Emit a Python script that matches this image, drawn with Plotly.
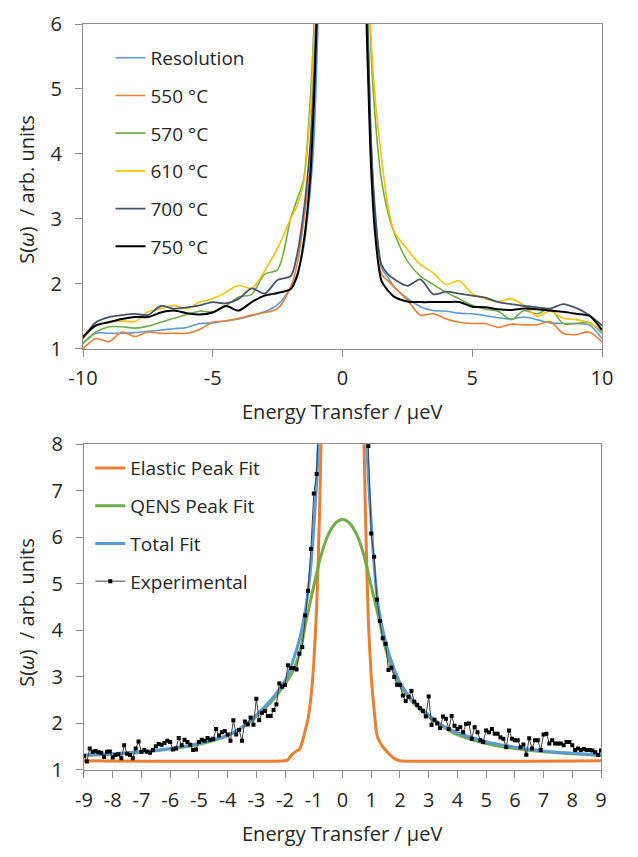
import numpy as np
import plotly.graph_objects as go

# ---------------- top panel data ----------------
x_top = [-10, -9.5, -9, -8.5, -8, -7.5, -7, -6.5, -6, -5.5, -5, -4.5, -4, -3.5, -3, -2.5, -2,
         -1.75, -1.5, -1.25, -1.1, -1.0, -0.9, -0.5, 0, 0.5, 0.9, 1.0, 1.1, 1.25, 1.5, 1.75,
         2, 2.5, 3, 3.5, 4, 4.5, 5, 5.5, 6, 6.5, 7, 7.5, 8, 8.5, 9, 9.5, 10]

resolution = [1.08, 1.24, 1.24, 1.24, 1.25, 1.27, 1.29, 1.31, 1.33, 1.39, 1.40, 1.43, 1.46, 1.51, 1.57, 1.68, 1.94,
              2.15, 2.55, 3.4, 4.2, 5.3, 6.8, 25, 40, 25, 7.0, 5.5, 4.2, 3.2, 2.25, 2.1,
              1.95, 1.78, 1.65, 1.59, 1.58, 1.55, 1.54, 1.51, 1.48, 1.46, 1.49, 1.45, 1.40, 1.39, 1.39, 1.37, 1.16]
t550 = [1.00, 1.16, 1.11, 1.26, 1.19, 1.26, 1.24, 1.24, 1.24, 1.30, 1.41, 1.43, 1.47, 1.52, 1.56, 1.62, 1.95,
        2.3, 2.95, 3.8, 5.0, 6.3, 7.5, 25, 40, 25, 7.0, 5.4, 4.0, 3.0, 2.15, 2.05,
        1.95, 1.75, 1.52, 1.54, 1.46, 1.41, 1.39, 1.39, 1.33, 1.38, 1.37, 1.37, 1.42, 1.24, 1.22, 1.26, 1.11]
t570 = [1.09, 1.26, 1.34, 1.34, 1.32, 1.35, 1.41, 1.47, 1.53, 1.58, 1.57, 1.66, 1.80, 1.84, 2.15, 2.22, 3.0,
        3.3, 3.6, 4.8, 6.0, 7.5, 9.0, 25, 40, 25, 9.0, 7.0, 5.6, 4.6, 3.6, 3.1,
        2.78, 2.35, 2.12, 1.99, 1.87, 1.77, 1.67, 1.61, 1.58, 1.45, 1.59, 1.54, 1.62, 1.39, 1.39, 1.41, 1.24]
t610 = [1.16, 1.36, 1.41, 1.43, 1.42, 1.57, 1.62, 1.67, 1.62, 1.72, 1.77, 1.87, 1.98, 1.93, 2.2, 2.55, 3.0,
        3.2, 3.55, 4.6, 5.8, 7.2, 9.0, 25, 40, 25, 9.0, 7.2, 5.8, 4.9, 3.95, 3.2,
        2.8, 2.53, 2.3, 2.17, 1.99, 2.05, 1.85, 1.77, 1.73, 1.77, 1.67, 1.50, 1.58, 1.47, 1.45, 1.40, 1.29]
t700 = [1.16, 1.41, 1.49, 1.52, 1.54, 1.52, 1.66, 1.62, 1.64, 1.67, 1.72, 1.70, 1.77, 1.93, 1.85, 2.06, 2.12,
        2.45, 3.1, 4.1, 5.2, 6.3, 7.8, 25, 40, 25, 7.0, 5.6, 4.2, 3.1, 2.3, 2.15,
        2.07, 1.97, 2.07, 1.84, 1.88, 1.85, 1.82, 1.79, 1.72, 1.69, 1.66, 1.64, 1.62, 1.69, 1.63, 1.52, 1.36]
t750 = [1.19, 1.36, 1.41, 1.46, 1.49, 1.49, 1.56, 1.59, 1.55, 1.53, 1.56, 1.66, 1.59, 1.72, 1.82, 1.86, 1.92,
        2.12, 2.63, 3.6, 4.8, 6.0, 7.5, 25, 40, 25, 6.5, 5.0, 3.8, 2.8, 2.05, 1.9,
        1.8, 1.73, 1.72, 1.72, 1.72, 1.72, 1.65, 1.64, 1.61, 1.60, 1.62, 1.61, 1.59, 1.57, 1.54, 1.51, 1.29]

top_names = ["Resolution", "550 °C", "570 °C", "610 °C", "700 °C", "750 °C"]
top_series = [resolution, t550, t570, t610, t700, t750]
top_colors = ["#5B9BD5", "#ED7D31", "#70AD47", "#FFC000", "#44546A", "#000000"]
top_widths = [1.6, 1.6, 1.6, 1.6, 1.8, 2.0]

# ---------------- bottom panel data ----------------
x_fit = [-9, -8, -7, -6, -5, -4, -3.5, -3, -2.5, -2, -1.75, -1.5, -1.25, -1.1, -1.0, -0.9, -0.8, -0.6, -0.3, 0,
         0.3, 0.6, 0.8, 0.9, 1.0, 1.1, 1.25, 1.5, 1.75, 2, 2.5, 3, 3.5, 4, 5, 6, 7, 8, 9]
total_fit = [1.32, 1.35, 1.39, 1.46, 1.57, 1.75, 1.92, 2.18, 2.5, 2.92, 3.3, 3.8, 4.6, 5.4, 6.2, 7.2, 8.6, 12, 18, 20,
             18, 12, 8.6, 7.3, 6.3, 5.4, 4.5, 3.75, 3.25, 2.88, 2.45, 2.18, 1.95, 1.8, 1.61, 1.49, 1.41, 1.36, 1.32]
x_qens = [-9, -8, -7, -6, -5, -4, -3.5, -3, -2.5, -2, -1.75, -1.5, -1.25, -1.0, -0.75, -0.5, -0.25, 0,
          0.25, 0.5, 0.75, 1.0, 1.25, 1.5, 1.75, 2, 2.5, 3, 3.5, 4, 5, 6, 7, 8, 9]
qens_fit = [1.31, 1.34, 1.38, 1.45, 1.55, 1.74, 1.91, 2.15, 2.45, 2.85, 3.1, 3.5, 4.25, 4.95, 5.6, 6.05, 6.3, 6.38,
            6.3, 6.05, 5.6, 4.95, 4.3, 3.6, 3.15, 2.82, 2.42, 2.15, 1.93, 1.76, 1.57, 1.46, 1.39, 1.35, 1.31]
x_elastic = [-9, -2.0, -1.9, -1.8, -1.7, -1.6, -1.5, -1.4, -1.3, -1.2, -1.1, -1.0, -0.9, -0.8, -0.7, -0.5, -0.25, 0,
             0.25, 0.5, 0.7, 0.8, 0.9, 1.0, 1.1, 1.2, 1.3, 1.4, 1.5, 1.6, 1.7, 1.8, 1.9, 2.0, 9]
elastic_fit = [1.2, 1.2, 1.22, 1.3, 1.36, 1.41, 1.44, 1.6, 1.84, 2.1, 2.55, 3.3, 4.5, 6.5, 9.5, 16, 24, 27,
               24, 16, 9.5, 6.5, 4.2, 3.0, 2.3, 1.75, 1.6, 1.5, 1.43, 1.36, 1.3, 1.25, 1.22, 1.2, 1.2]

x_exp = np.round(np.arange(-90, 91) / 10.0, 1)
exp_left = [1.30, 1.18, 1.46, 1.39, 1.41, 1.38, 1.37, 1.28, 1.39, 1.40,
            1.27, 1.32, 1.34, 1.25, 1.53, 1.35, 1.32, 1.25, 1.46, 1.61,
            1.39, 1.43, 1.39, 1.37, 1.43, 1.51, 1.56, 1.54, 1.58, 1.63,
            1.60, 1.44, 1.46, 1.69, 1.53, 1.65, 1.60, 1.54, 1.43, 1.44,
            1.60, 1.65, 1.63, 1.69, 1.65, 1.67, 1.88, 1.74, 1.81, 1.84,
            1.76, 1.63, 2.07, 1.76, 1.86, 1.63, 2.04, 1.98, 2.13, 1.97,
            2.53, 2.07, 2.23, 2.27, 2.16, 2.16, 2.29, 2.41, 2.86, 2.79,
            2.83, 3.25, 3.19, 3.19, 3.16, 3.50, 3.64, 4.32, 4.85, 5.75,
            6.94, 7.36]
exp_center = [9.6, 12.5, 15.5, 18.5, 21, 23, 24.5, 25.5, 26, 25.5, 24.5, 23, 21, 18.5, 15.5, 12.5, 9.8]
exp_right = [7.96, 6.08, 5.58, 4.66, 4.20, 3.83, 3.71, 3.15, 3.20, 3.00,
             2.83, 2.83, 2.60, 2.48, 2.57, 2.70, 2.47, 2.40, 2.33, 2.27,
             2.15, 2.58, 1.97, 2.08, 2.00, 1.90, 2.15, 2.10, 1.88, 2.16,
             1.95, 1.88, 1.92, 1.81, 1.99, 2.00, 1.67, 1.92, 1.81, 1.64,
             1.60, 1.85, 1.81, 1.88, 1.78, 1.78, 1.70, 1.67, 1.49, 1.85,
             1.67, 1.64, 1.64, 1.49, 1.55, 1.33, 1.68, 1.46, 1.64, 1.64,
             1.43, 1.76, 1.78, 1.57, 1.64, 1.57, 1.57, 1.57, 1.53, 1.60,
             1.60, 1.53, 1.43, 1.46, 1.43, 1.45, 1.43, 1.43, 1.42, 1.38,
             1.33, 1.42]
experimental = exp_left + exp_center + exp_right

top_xticks = [-10, -5, 0, 5, 10]
top_xlabels = ["-10", "-5", "0", "5", "10"]
top_yticks = [1, 2, 3, 4, 5, 6]
bot_xticks = list(range(-9, 10))
bot_xlabels = [str(v) for v in bot_xticks]
bot_yticks = [1, 2, 3, 4, 5, 6, 7, 8]

FONT = "Open Sans"
TXT = "#262626"
AX = "#8C8C8C"

fig = go.Figure()

for i, (name, ys, col, w) in enumerate(zip(top_names, top_series, top_colors, top_widths)):
    fig.add_trace(go.Scatter(x=x_top, y=ys, name=name, mode="lines",
                             line=dict(color=col, width=w, shape="spline", smoothing=0.8),
                             xaxis="x", yaxis="y", legend="legend", legendgroup="t%d" % i))

fig.add_trace(go.Scatter(x=x_elastic, y=elastic_fit, name="Elastic Peak Fit", mode="lines",
                         line=dict(color="#ED7D31", width=3, shape="spline", smoothing=0.6),
                         xaxis="x2", yaxis="y2", legend="legend2", legendgroup="b0"))
fig.add_trace(go.Scatter(x=x_qens, y=qens_fit, name="QENS Peak Fit", mode="lines",
                         line=dict(color="#70AD47", width=3, shape="spline", smoothing=0.8),
                         xaxis="x2", yaxis="y2", legend="legend2", legendgroup="b1"))
fig.add_trace(go.Scatter(x=x_fit, y=total_fit, name="Total Fit", mode="lines",
                         line=dict(color="#5B9BD5", width=3, shape="spline", smoothing=0.8),
                         xaxis="x2", yaxis="y2", legend="legend2", legendgroup="b2"))
fig.add_trace(go.Scatter(x=x_exp, y=experimental, name="Experimental", mode="lines+markers",
                         line=dict(color="#404040", width=1),
                         marker=dict(symbol="square", size=4, color="#000000"),
                         xaxis="x2", yaxis="y2", legend="legend2", legendgroup="b3"))

axis_common = dict(showgrid=False, zeroline=False, showline=True, linecolor=AX, linewidth=1,
                   mirror=True, ticks="outside", ticklen=7, tickcolor=AX, tickwidth=1,
                   tickfont=dict(family=FONT, size=20, color=TXT))

fig.update_layout(
    width=638, height=857,
    margin=dict(l=83, r=36, t=10, b=87),
    paper_bgcolor="white", plot_bgcolor="white",
    font=dict(family=FONT, size=19, color=TXT),
    xaxis=dict(domain=[0, 1], anchor="y", range=[-10, 10], tickvals=top_xticks, ticktext=top_xlabels,
               ticklabelstandoff=4, **axis_common),
    yaxis=dict(domain=[0.5645, 1], anchor="x", range=[1, 6], tickvals=top_yticks,
               ticklabelstandoff=9, **axis_common),
    xaxis2=dict(domain=[0.0019, 0.9981], anchor="y2", range=[-9, 9], tickvals=bot_xticks, ticktext=bot_xlabels,
                ticklabelstandoff=5, **axis_common),
    yaxis2=dict(domain=[0, 0.4368], anchor="x2", range=[1, 8], tickvals=bot_yticks,
                ticklabelstandoff=9, **axis_common),
    legend=dict(x=0.053, y=0.980, xanchor="left", yanchor="top", bgcolor="rgba(0,0,0,0)",
                font=dict(family=FONT, size=19, color=TXT), tracegroupgap=10, itemwidth=30),
    legend2=dict(x=0.014, y=0.430, xanchor="left", yanchor="top", bgcolor="rgba(0,0,0,0)",
                 font=dict(family=FONT, size=19, color=TXT), tracegroupgap=10, itemwidth=30),
    showlegend=True,
    annotations=[
        dict(text="Energy Transfer / µeV", xref="paper", yref="paper", x=0.499, y=0.480,
             xanchor="center", yanchor="middle", showarrow=False, font=dict(family=FONT, size=20, color=TXT)),
        dict(text="Energy Transfer / µeV", xref="paper", yref="paper", x=0.499, y=-0.0855,
             xanchor="center", yanchor="middle", showarrow=False, font=dict(family=FONT, size=20, color=TXT)),
        dict(text="S(<i>ω</i>)  / arb. units", xref="paper", yref="paper", x=-0.108, y=0.779,
             xanchor="center", yanchor="middle", textangle=-90, showarrow=False,
             font=dict(family=FONT, size=20, color=TXT)),
        dict(text="S(<i>ω</i>)  / arb. units", xref="paper", yref="paper", x=-0.108, y=0.212,
             xanchor="center", yanchor="middle", textangle=-90, showarrow=False,
             font=dict(family=FONT, size=20, color=TXT)),
    ],
)

fig.write_html("out.html")
